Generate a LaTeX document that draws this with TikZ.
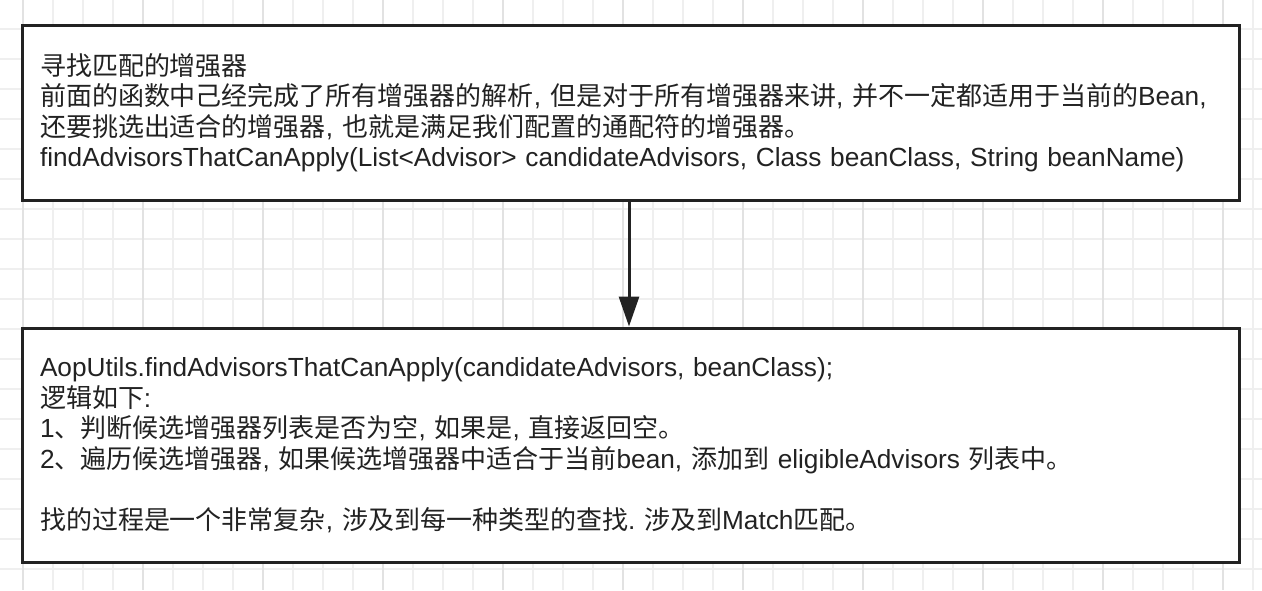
\documentclass[tikz,border=0pt]{standalone}
\usepackage{fontspec}
\setmainfont{Liberation Sans}[Scale=1.009]
\newfontfamily\cjk{Noto Sans CJK SC}
\newcommand\zh[1]{{\cjk #1}}
\frenchspacing
\usetikzlibrary{arrows.meta}
\definecolor{gridminor}{HTML}{EFEFEF}
\definecolor{gridmajor}{HTML}{E2E2E2}
\definecolor{ink}{HTML}{222222}
\tikzset{
  gminor/.style={draw=gridminor, line width=2pt},
  gmajor/.style={draw=gridmajor, line width=2pt},
  box/.style={draw=ink, line width=3pt, fill=white, rectangle, align=left,
    text width=1181pt, inner xsep=18pt, inner ysep=0pt, minimum width=1217pt,
    font=\fontsize{26}{30.5}\selectfont\frenchspacing, text=ink},
  flow/.style={draw=ink, line width=3pt, -{Triangle[length=30pt,width=20pt]}}
}
\begin{document}
\begin{tikzpicture}[x=1pt,y=-1pt]
\useasboundingbox (0,0) rectangle (1262,590);
\fill[white] (0,0) rectangle (1262,590);
% grid
\foreach \i in {0,...,41} {
  \draw[gminor] (22.7+30*\i,0) -- (22.7+30*\i,590);
}
\foreach \j in {0,...,19} {
  \draw[gminor] (0,29.3+30*\j) -- (1262,29.3+30*\j);
}
\foreach \i in {0,...,10} {
  \draw[gmajor] (22.7+120*\i,0) -- (22.7+120*\i,590);
}
% boxes
\node[box, minimum height=175pt] (top) at (630.5,112.5) {%
\zh{寻找匹配的增强器}\\
\zh{前面的函数中己经完成了所有增强器的解析}, \zh{但是对于所有增强器来讲}, \zh{并不一定都适用于当前的}Bean,\\
\zh{还要挑选出适合的增强器}, \zh{也就是满足我们配置的通配符的增强器。}\\
findAdvisorsThatCanApply(List<Advisor> candidateAdvisors, Class beanClass, String beanName)};
\node[box, minimum height=234pt] (bot) at (630.5,445) {%
AopUtils.findAdvisorsThatCanApply(candidateAdvisors, beanClass);\\
\zh{逻辑如下}:\\
1\zh{、判断候选增强器列表是否为空}, \zh{如果是}, \zh{直接返回空。}\\
2\zh{、遍历候选增强器}, \zh{如果候选增强器中适合于当前}bean, \zh{添加到} eligibleAdvisors \zh{列表中。}\\[30.5pt]
\zh{找的过程是一个非常复杂}, \zh{涉及到每一种类型的查找}. \zh{涉及到}Match\zh{匹配。}};
% connector
\draw[flow] ([xshift=-1.5pt]top.south) -- ([xshift=-1.5pt]bot.north);
\end{tikzpicture}
\end{document}
